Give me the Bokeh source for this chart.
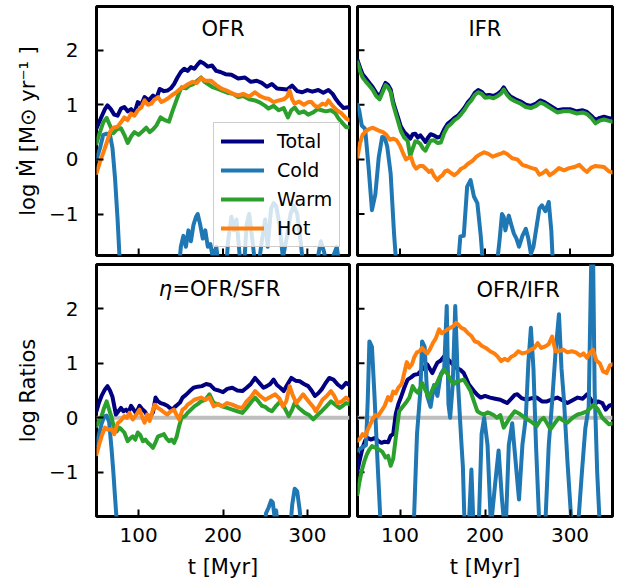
import math
from bokeh.plotting import figure
from bokeh.models import Range1d, Label, Legend, LegendItem, FixedTicker, CustomJSTickFormatter, Span
from bokeh.layouts import gridplot
from bokeh.embed import file_html
from bokeh.resources import INLINE

# ---------------- data ----------------
# Panel OFR (log outflow rate)
ofr_total_t = [50,55,60,63,67,71,75,79,83,87,91,95,99,103,107,112,117,121,125,130,134,138,142,146,150,154,158,162,166,170,173,177,182,187,192,197,203,210,218,226,233,240,246,252,258,264,270,276,282,288,294,300,306,313,319,325,330,334,338,343,350]
ofr_total = [0.57,0.75,0.92,0.99,0.92,0.82,0.80,0.93,0.96,0.88,0.92,0.85,1.05,1.0,1.14,1.08,1.17,1.12,1.29,1.25,1.26,1.30,1.38,1.50,1.60,1.66,1.62,1.69,1.66,1.74,1.79,1.76,1.70,1.72,1.62,1.60,1.56,1.55,1.48,1.50,1.42,1.44,1.40,1.33,1.38,1.30,1.29,1.28,1.35,1.25,1.23,1.27,1.24,1.27,1.22,1.27,1.20,1.10,1.02,0.94,0.96]
ofr_cold_t = [50,54,58,62,66,69,72,75,78,81,100,130,145,150,153,156,159,162,165,168,170,173,176,179,182,185,188,192,197,202,206,210,213,216,220,224,228,231,235,240,246,250,253,257,260,263,267,271,276,280,284,288,292,297,303,310,316,320,325,330,335,340,346,350]
ofr_cold = [0.0,0.2,0.45,0.47,0.45,0.2,-0.35,-1.1,-2.0,-2.6,-2.6,-2.6,-2.5,-1.6,-1.4,-1.6,-1.3,-1.5,-1.2,-1.05,-1.0,-1.2,-1.45,-1.3,-1.6,-1.55,-1.8,-1.6,-2.2,-2.4,-1.5,-1.05,-1.3,-1.1,-1.8,-2.2,-1.2,-1.0,-1.5,-2.2,-1.5,-1.1,-1.6,-0.9,-0.8,-0.85,-1.2,-1.8,-1.4,-1.0,-0.85,-1.0,-1.5,-2.2,-2.4,-2.0,-1.5,-1.7,-2.3,-1.8,-1.6,-2.2,-2.5,-2.6]
ofr_warm_t = [50,53,58,62,66,70,74,79,83,87,91,95,100,105,109,113,117,121,126,131,136,140,144,148,151,156,160,165,170,174,178,182,187,192,199,205,212,218,224,231,238,244,250,254,260,266,272,277,281,285,290,296,301,307,312,317,322,328,333,337,342,346,350]
ofr_warm = [0.29,0.45,0.68,0.76,0.62,0.48,0.55,0.57,0.45,0.30,0.42,0.50,0.45,0.52,0.58,0.50,0.55,0.62,0.77,0.72,0.69,0.88,1.05,1.22,1.32,1.30,1.35,1.38,1.45,1.50,1.42,1.38,1.33,1.30,1.26,1.22,1.20,1.14,1.16,1.10,1.08,1.04,0.98,0.93,0.98,0.90,0.94,0.77,0.90,0.95,0.85,0.88,0.82,0.86,0.92,0.90,0.88,0.90,0.85,0.75,0.66,0.59,0.59]
ofr_hot_t = [50,54,58,62,66,70,75,79,83,87,91,95,99,103,107,111,115,119,123,127,131,135,139,144,149,154,159,164,169,174,179,186,192,199,206,212,218,224,231,238,244,250,254,260,266,272,276,279,282,285,290,296,301,305,309,313,318,322,325,330,335,340,346,350]
ofr_hot = [-0.25,-0.05,0.12,0.30,0.50,0.58,0.60,0.68,0.77,0.72,0.84,0.80,0.90,0.95,1.08,1.00,1.02,1.10,1.14,1.05,1.08,1.12,1.17,1.22,1.29,1.33,1.38,1.42,1.40,1.49,1.44,1.44,1.36,1.29,1.25,1.20,1.17,1.20,1.15,1.23,1.16,1.12,1.11,1.05,1.08,1.10,1.15,1.26,1.10,1.02,1.06,1.00,1.05,1.05,0.98,0.96,1.02,1.00,1.08,0.98,0.90,0.85,0.75,0.72]

# Panel IFR (log inflow rate)
ifr_t = [50,53,56,60,64,68,72,76,80,83,86,89,92,95,98,101,105,109,112,115,118,121,124,127,130,133,136,140,144,148,152,156,160,164,168,172,176,180,184,188,192,196,200,205,210,215,219,222,226,230,236,242,248,254,260,265,270,277,285,292,300,308,315,320,325,330,335,340,345,350]
ifr_total = [1.82,1.68,1.56,1.48,1.40,1.32,1.22,1.15,1.30,1.40,1.36,1.28,1.05,0.90,0.75,0.60,0.50,0.44,0.38,0.46,0.47,0.40,0.44,0.38,0.32,0.40,0.46,0.44,0.40,0.42,0.55,0.65,0.70,0.76,0.80,0.87,0.95,1.05,1.12,1.22,1.27,1.24,1.17,1.18,1.16,1.20,1.25,1.32,1.22,1.15,1.10,1.06,1.00,0.98,1.02,1.08,1.05,0.98,0.90,0.92,0.92,0.88,0.90,0.87,0.80,0.72,0.76,0.78,0.76,0.74]
ifr_warm = [1.78,1.62,1.50,1.42,1.35,1.27,1.16,1.10,1.25,1.36,1.32,1.23,1.00,0.84,0.68,0.52,0.40,0.34,0.06,0.20,0.33,0.32,0.28,0.20,0.16,0.26,0.34,0.35,0.30,0.31,0.48,0.60,0.65,0.72,0.76,0.83,0.91,1.01,1.08,1.18,1.23,1.20,1.13,1.14,1.12,1.16,1.21,1.28,1.18,1.11,1.06,1.02,0.96,0.94,0.98,1.04,1.01,0.94,0.86,0.88,0.88,0.84,0.86,0.83,0.76,0.66,0.71,0.73,0.71,0.69]
ifr_cold_t = [50,52,55,59,63,67,71,75,79,82,85,89,93,96,100,130,160,168,171,175,179,183,187,191,195,199,205,212,217,220,222,224,226,228,231,234,237,240,244,248,251,254,257,261,264,267,271,275,278,281,290,320,350]
ifr_cold = [1.0,0.9,0.62,0.56,-0.14,-0.93,-0.64,0.04,0.41,0.40,0.23,-0.26,-1.36,-2.0,-2.6,-2.6,-2.6,-2.0,-1.41,-1.40,-0.50,-0.38,-0.68,-0.80,-1.40,-2.2,-2.6,-2.2,-1.5,-1.0,-1.05,-1.30,-1.15,-1.03,-1.20,-1.36,-1.45,-1.60,-1.40,-1.27,-1.45,-1.73,-1.60,-1.20,-0.90,-0.84,-0.95,-0.78,-1.3,-2.3,-2.6,-2.6,-2.6]
ifr_hot_t = [50,53,56,60,64,68,72,76,80,84,88,92,96,100,104,107,110,113,116,119,123,127,131,134,137,140,144,147,150,153,156,160,164,168,172,176,180,185,190,195,199,204,209,214,218,222,226,232,238,244,250,255,260,264,268,272,276,281,287,293,299,305,311,316,320,325,330,335,340,346,350]
ifr_hot = [0.05,0.30,0.45,0.52,0.56,0.58,0.55,0.52,0.50,0.45,0.36,0.38,0.35,0.25,0.10,0.00,0.03,0.04,-0.10,-0.17,-0.12,-0.12,-0.18,-0.23,-0.20,-0.30,-0.38,-0.32,-0.29,-0.22,-0.20,-0.25,-0.29,-0.24,-0.17,-0.14,-0.08,-0.03,0.05,0.10,0.13,0.10,0.05,0.08,0.10,0.13,0.10,0.02,0.00,-0.10,-0.13,-0.16,-0.18,-0.28,-0.25,-0.20,-0.29,-0.24,-0.16,-0.20,-0.16,-0.14,-0.10,-0.18,-0.23,-0.15,-0.12,-0.13,-0.14,-0.22,-0.24]

# Panel eta = OFR/SFR (log ratio)
eta_total_t = [50,53,56,60,63,66,69,73,76,79,82,85,88,91,94,97,101,104,107,110,113,117,120,123,126,130,134,137,140,143,146,149,152,156,160,165,170,175,180,185,190,195,200,205,211,217,223,228,233,238,243,248,252,256,260,264,268,272,276,281,286,291,296,301,305,309,313,317,321,326,331,336,341,346,350]
eta_total = [0.12,0.28,0.40,0.52,0.58,0.50,0.38,0.06,0.12,0.18,0.12,0.15,0.10,0.22,0.15,0.08,0.22,0.16,0.12,0.05,0.00,0.10,0.37,0.30,0.27,0.25,0.22,0.18,0.15,0.20,0.24,0.28,0.37,0.42,0.48,0.55,0.57,0.58,0.62,0.60,0.52,0.50,0.47,0.53,0.55,0.50,0.49,0.55,0.62,0.73,0.64,0.55,0.58,0.62,0.70,0.60,0.55,0.49,0.60,0.73,0.68,0.67,0.62,0.58,0.50,0.40,0.45,0.52,0.62,0.73,0.70,0.61,0.55,0.64,0.60]
eta_cold_t = [50,53,56,59,62,65,68,70,72,74,76,100,200,248,251,254,257,259,261,263,266,275,279,282,285,288,291,294,300,350]
eta_cold = [-0.5,-0.3,-0.11,0.02,0.04,-0.08,-0.6,-1.0,-1.46,-1.9,-2.5,-2.6,-2.6,-2.2,-1.75,-1.65,-1.52,-1.55,-1.8,-1.7,-2.2,-2.6,-2.2,-1.6,-1.3,-1.35,-1.7,-2.2,-2.6,-2.6]
eta_warm_t = [50,53,56,59,62,65,68,71,74,77,80,83,87,90,93,96,99,102,105,108,111,114,117,120,123,127,130,133,136,139,142,145,148,151,155,158,162,166,170,174,179,184,189,194,199,205,211,217,223,228,233,238,242,246,250,254,258,263,268,273,278,282,285,290,297,302,307,312,317,322,328,333,338,342,346,350]
eta_warm = [-0.15,-0.05,0.03,0.18,0.30,0.15,0.00,-0.21,-0.25,-0.18,-0.22,-0.27,-0.43,-0.38,-0.34,-0.40,-0.27,-0.32,-0.43,-0.40,-0.46,-0.50,-0.55,-0.45,-0.34,-0.32,-0.30,-0.38,-0.43,-0.40,-0.46,-0.35,-0.15,0.00,0.03,0.09,0.15,0.21,0.25,0.30,0.33,0.43,0.27,0.25,0.21,0.18,0.15,0.12,0.09,0.18,0.28,0.37,0.30,0.22,0.20,0.15,0.12,0.22,0.30,0.18,0.03,0.15,0.27,0.18,0.09,0.05,-0.03,0.05,0.12,0.20,0.30,0.24,0.18,0.22,0.27,0.25]
eta_hot_t = [50,53,56,60,64,68,71,75,79,83,86,89,93,97,101,104,107,110,113,116,119,123,126,130,134,138,142,145,148,152,155,158,162,166,170,174,179,184,189,194,199,205,211,217,223,228,233,238,244,250,256,262,267,271,275,279,283,287,291,295,299,303,307,310,314,318,323,328,332,336,341,346,350]
eta_hot = [-0.67,-0.50,-0.34,-0.18,-0.22,-0.21,-0.30,-0.10,-0.05,0.03,0.00,0.09,-0.03,0.05,0.15,0.02,-0.09,0.06,-0.06,0.10,0.24,0.18,0.15,0.10,0.06,0.12,0.15,0.05,-0.03,0.15,0.18,0.24,0.28,0.33,0.35,0.37,0.33,0.37,0.21,0.25,0.21,0.27,0.24,0.20,0.18,0.30,0.38,0.49,0.40,0.33,0.38,0.43,0.35,0.21,0.30,0.58,0.40,0.27,0.35,0.43,0.35,0.27,0.20,0.12,0.22,0.33,0.40,0.49,0.40,0.27,0.30,0.37,0.32]

# Panel OFR/IFR (log ratio)
oi_total_t = [50,53,56,59,62,66,70,74,78,82,86,89,92,95,98,101,105,109,113,117,121,124,128,132,135,138,141,144,148,152,156,160,164,167,171,175,178,181,184,187,191,195,200,206,212,218,222,226,231,235,238,243,249,255,261,267,273,279,285,291,297,303,309,315,320,324,328,333,338,342,346,350]
oi_total = [-0.97,-0.75,-0.55,-0.42,-0.37,-0.40,-0.37,-0.42,-0.46,-0.44,-0.45,-0.33,-0.30,0.07,0.25,0.37,0.55,0.70,0.74,0.79,0.80,0.85,0.92,0.98,0.90,0.82,0.92,1.01,1.05,1.13,1.08,1.01,0.95,0.91,0.88,0.82,0.72,0.61,0.55,0.49,0.42,0.37,0.40,0.37,0.35,0.33,0.30,0.27,0.35,0.42,0.43,0.36,0.33,0.36,0.37,0.30,0.30,0.34,0.37,0.32,0.27,0.32,0.37,0.35,0.43,0.35,0.24,0.30,0.27,0.15,0.22,0.24]
oi_cold_t = [50,55,60,62,64,67,70,74,78,85,115,120,124,126,129,132,136,140,144,148,152,155,157,159,162,165,168,172,174,176,180,184,187,192,196,199,203,207,212,216,220,224,228,232,236,240,244,248,251,254,257,260,264,270,275,279,283,287,290,293,297,302,308,314,318,322,325,327,329,332,336,342,350]
oi_cold = [-0.6,-0.55,-0.5,0.3,1.4,1.3,0.4,-0.95,-2.2,-2.5,-2.5,-0.3,0.5,1.4,1.3,0.4,0.2,0.6,0.4,0.8,0.9,2.05,0.25,0.0,0.6,2.05,0.7,-0.4,-0.9,-2.0,-2.3,-0.95,-2.2,-2.3,-0.3,0.0,-0.5,-2.0,-1.2,-0.6,-1.5,-2.2,-0.5,-0.1,-0.8,-1.5,-0.5,0.0,1.0,1.65,0.9,-0.5,-2.0,-2.3,-0.5,0.3,1.2,1.9,0.9,0.3,-0.8,-2.0,-2.3,-1.0,-0.2,0.2,2.9,3.2,0.5,-1.0,-2.3,-2.3,-2.5]
oi_warm_t = [50,52,55,58,61,64,67,71,75,79,83,86,89,92,95,99,102,105,108,111,115,118,121,124,126,130,134,137,140,143,146,149,152,156,160,164,167,171,175,179,183,187,191,195,199,203,206,210,214,218,222,226,230,235,240,245,250,255,261,265,269,273,277,282,287,292,297,303,309,314,320,324,328,333,338,342,346,350]
oi_warm = [-1.4,-1.2,-0.97,-0.80,-0.67,-0.58,-0.52,-0.55,-0.58,-0.62,-0.73,-0.70,-0.88,-0.75,-0.37,0.12,0.18,0.24,0.30,0.37,0.58,0.50,0.46,0.55,0.64,0.50,0.37,0.48,0.58,0.62,0.73,0.80,0.88,0.80,0.67,0.62,0.67,0.68,0.70,0.60,0.49,0.30,0.12,0.08,0.06,0.10,0.08,0.05,0.00,0.05,-0.18,-0.08,0.02,0.12,0.08,0.02,-0.03,-0.08,-0.15,-0.05,0.00,-0.10,-0.21,-0.10,0.00,-0.05,-0.09,0.00,0.06,0.08,0.12,0.18,0.24,0.15,0.00,-0.06,-0.12,-0.10]
oi_hot_t = [50,53,56,59,62,65,68,71,74,78,82,86,89,92,95,98,102,105,108,111,114,117,120,123,126,129,132,135,139,142,146,149,152,156,160,163,166,169,172,176,180,184,188,192,196,201,206,211,215,219,223,227,231,235,239,244,249,254,258,262,266,271,275,279,283,287,292,297,302,307,312,316,320,324,327,331,335,339,343,347,350]
oi_hot = [-0.42,-0.38,-0.30,-0.34,-0.22,-0.12,-0.02,0.05,0.03,0.12,0.22,0.38,0.32,0.48,0.45,0.55,0.62,0.82,1.02,0.92,0.98,1.12,1.20,1.22,1.28,1.22,1.18,1.25,1.38,1.45,1.62,1.55,1.58,1.62,1.66,1.68,1.74,1.70,1.65,1.62,1.55,1.50,1.40,1.38,1.32,1.28,1.22,1.18,1.12,1.04,1.08,1.05,1.12,1.15,1.22,1.18,1.20,1.25,1.28,1.37,1.28,1.31,1.35,1.49,1.22,1.22,1.25,1.20,1.22,1.20,1.14,1.18,1.10,1.20,1.25,1.05,1.00,0.85,0.82,0.96,0.98]

series_names = ["Total", "Cold", "Warm", "Hot"]
series_colors = ["#000080", "#1f77b4", "#2ca02c", "#ff7f0e"]
x_ticks = [100, 200, 300]
y_ticks = [-1, 0, 1, 2]
X_RANGE = (50, 350)

FONT = "DejaVu Sans"
LW = 4
TICK_LEN = 7


def make_panel(width, height, mb, yr, xlabels, ylabels):
    p = figure(width=width, height=height, x_range=Range1d(*X_RANGE), y_range=Range1d(*yr),
               output_backend="svg", toolbar_location=None,
               min_border_left=mb[0], min_border_right=mb[1], min_border_top=mb[2], min_border_bottom=mb[3])
    p.grid.visible = False
    p.outline_line_color = "black"
    p.outline_line_width = 3
    p.outline_line_alpha = 1
    p.background_fill_color = "white"
    p.border_fill_color = "white"
    fmt = CustomJSTickFormatter(code="return (tick < 0 ? '\u2212' : '') + Math.abs(tick).toFixed(0);")
    for ax, ticks in ((p.xaxis[0], x_ticks), (p.yaxis[0], y_ticks)):
        ax.ticker = FixedTicker(ticks=ticks)
        ax.formatter = fmt
        ax.axis_line_color = None
        ax.major_tick_in = TICK_LEN
        ax.major_tick_out = 0
        ax.major_tick_line_width = 2
        ax.major_tick_line_color = "black"
        ax.minor_tick_line_color = None
        ax.major_label_text_font = FONT
        ax.major_label_text_font_size = "20px"
        ax.major_label_text_color = "black"
        ax.axis_label_text_font = FONT
        ax.axis_label_text_font_size = "21px"
        ax.axis_label_text_font_style = "normal"
        ax.axis_label_text_color = "black"
    p.xaxis.major_label_standoff = 11
    p.yaxis.major_label_standoff = 18
    # axes without tick labels: hide the axis and draw the inward ticks as short rays
    if not xlabels:
        p.xaxis.visible = False
        p.ray(x=x_ticks, y=[yr[0]] * len(x_ticks), length=TICK_LEN, length_units="screen",
              angle=math.pi / 2, line_color="black", line_width=2)
    if not ylabels:
        p.yaxis.visible = False
        p.ray(x=[X_RANGE[0]] * len(y_ticks), y=y_ticks, length=TICK_LEN, length_units="screen",
              angle=0, line_color="black", line_width=2)
    return p


def draw(p, tlist, vlist):
    rs = []
    for t, v, c in zip(tlist, vlist, series_colors):
        rs.append(p.line(t, v, line_color=c, line_width=LW, line_join="round", line_cap="round"))
    return rs


def title(p, x, y, text, align="center", style="normal"):
    p.add_layout(Label(x=x, y=y, text=text, text_align=align, text_baseline="middle",
                       text_font=FONT, text_font_size="21px", text_font_style=style, text_color="black"))


p1 = make_panel(352, 259, (96, 3, 6, 4), (-1.76, 2.80), False, True)
p2 = make_panel(272, 259, (5, 12, 6, 4), (-1.76, 2.80), False, False)
p3 = make_panel(352, 324, (96, 3, 5, 67), (-1.81, 2.81), True, True)
p4 = make_panel(272, 324, (5, 12, 5, 67), (-1.81, 2.81), True, False)

p1.yaxis.axis_label = "log \u1E40 [M\u2299 yr\u207B\u00B9 ]"
p3.yaxis.axis_label = "log Ratios"
p3.xaxis.axis_label = "t [Myr]"
p4.xaxis.axis_label = "t [Myr]"
for p in (p1, p3):
    p.yaxis.axis_label_standoff = 6
for p in (p3, p4):
    p.xaxis.axis_label_standoff = 10

for p in (p3, p4):
    p.add_layout(Span(location=0, dimension="width", line_color="#bebebe", line_width=4, level="underlay"))

r1 = draw(p1, [ofr_total_t, ofr_cold_t, ofr_warm_t, ofr_hot_t], [ofr_total, ofr_cold, ofr_warm, ofr_hot])
draw(p2, [ifr_t, ifr_cold_t, ifr_t, ifr_hot_t], [ifr_total, ifr_cold, ifr_warm, ifr_hot])
draw(p3, [eta_total_t, eta_cold_t, eta_warm_t, eta_hot_t], [eta_total, eta_cold, eta_warm, eta_hot])
draw(p4, [oi_total_t, oi_cold_t, oi_warm_t, oi_hot_t], [oi_total, oi_cold, oi_warm, oi_hot])

title(p1, 200, 2.38, "OFR")
title(p2, 200, 2.38, "IFR")
title(p3, 139.5, 2.37, "\u03B7", align="right", style="italic")
title(p3, 140, 2.37, "=OFR/SFR", align="left")
title(p4, 239, 2.34, "OFR/IFR")

legend = Legend(items=[LegendItem(label=n, renderers=[r]) for n, r in zip(series_names, r1)],
                location=(117, 8), margin=0, padding=7, spacing=7,
                glyph_width=43, glyph_height=20, label_height=20, label_standoff=13,
                label_text_font=FONT, label_text_font_size="19px", label_text_color="black",
                border_line_color="#cccccc", border_line_width=1.5, border_line_alpha=1,
                background_fill_color="white", background_fill_alpha=0.8)
p1.add_layout(legend)

grid = gridplot([[p1, p2], [p3, p4]], toolbar_location=None)

open("out.html", "w").write(file_html(grid, INLINE))
